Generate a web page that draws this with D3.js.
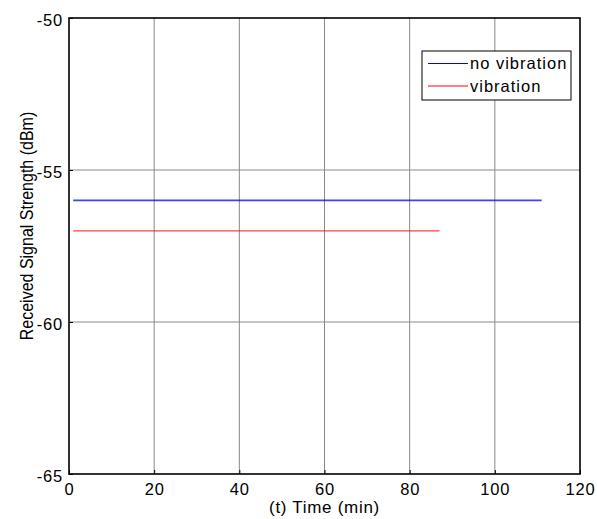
<!DOCTYPE html>
<html>
<head>
<meta charset="utf-8">
<script src="https://cdn.jsdelivr.net/npm/d3@7"></script>
<style>
  body { margin: 0; background: #fff; }
  text { font-family: "Liberation Sans", Arial, sans-serif; fill: #000; }
</style>
</head>
<body>
<script>
// series: [start, end] time (min) and constant RSS level (dBm)
var seriesNames = ["no vibration", "vibration"];
var seriesColors = ["#0000ff", "#ff0000"];
var noVibration = [[1, -56], [111, -56]];
var vibration = [[1, -57], [87, -57]];
var xTicks = [0, 20, 40, 60, 80, 100, 120];
var yTicks = [-65, -60, -55, -50];

var width = 597, height = 519;
var margin = { left: 69, right: 17, top: 18, bottom: 45 };

var svg = d3.select("body").append("svg")
    .attr("width", width)
    .attr("height", height);

var x = d3.scaleLinear().domain([0, 120]).range([margin.left, width - margin.right]);
var y = d3.scaleLinear().domain([-65, -50]).range([height - margin.bottom, margin.top]);

// grid
svg.append("g").selectAll("line").data(xTicks.slice(1, -1)).join("line")
    .attr("x1", d => x(d)).attr("x2", d => x(d))
    .attr("y1", y(-65)).attr("y2", y(-50))
    .attr("stroke", "#8a8a8a").attr("stroke-width", 1);
svg.append("g").selectAll("line").data(yTicks.slice(1, -1)).join("line")
    .attr("x1", x(0)).attr("x2", x(120))
    .attr("y1", d => y(d)).attr("y2", d => y(d))
    .attr("stroke", "#8a8a8a").attr("stroke-width", 1);

// data lines
var line = d3.line().x(d => x(d[0])).y(d => y(d[1]));
[noVibration, vibration].forEach(function (s, i) {
  svg.append("path").datum(s)
      .attr("d", line)
      .attr("fill", "none")
      .attr("stroke", seriesColors[i])
      .attr("stroke-width", i == 0 ? 1.6 : 1.2)
      .attr("opacity", 0.75);
});

// axes (ticks pointing inward, MATLAB style), plain hyphen minus
var fmt = d => String(d);
var xAxis = svg.append("g")
    .attr("transform", "translate(0," + y(-65) + ")")
    .call(d3.axisBottom(x).tickValues(xTicks).tickFormat(fmt).tickSizeInner(-4).tickSizeOuter(0).tickPadding(9));
var yAxis = svg.append("g")
    .attr("transform", "translate(" + x(0) + ",0)")
    .call(d3.axisLeft(y).tickValues(yTicks).tickFormat(fmt).tickSizeInner(-4).tickSizeOuter(0).tickPadding(6));
[xAxis, yAxis].forEach(function (g) {
  g.select(".domain").remove();
  g.selectAll("line").attr("stroke", "#000");
  g.selectAll("text").style("font-size", "16.5px").style("letter-spacing", "0.8px").attr("fill", "#000");
});
yAxis.selectAll("text").attr("dy", "0.45em");

// box
svg.append("rect")
    .attr("x", x(0)).attr("y", y(-50))
    .attr("width", x(120) - x(0)).attr("height", y(-65) - y(-50))
    .attr("fill", "none").attr("stroke", "#000").attr("stroke-width", 1.6);

// axis labels
svg.append("text")
    .attr("x", (x(0) + x(120)) / 2).attr("y", 512.5)
    .attr("text-anchor", "middle").style("font-size", "17px").style("letter-spacing", "0.7px")
    .text("(t) Time (min)");
svg.append("text")
    .attr("transform", "translate(33,226) rotate(-90) scale(1,1.15)")
    .attr("text-anchor", "middle").style("font-size", "16px")
    .text("Received Signal Strength (dBm)");

// legend
var legend = svg.append("g");
legend.append("rect")
    .attr("x", 422).attr("y", 51).attr("width", 149).attr("height", 49)
    .attr("fill", "#fff").attr("stroke", "#000").attr("stroke-width", 1);
seriesNames.forEach(function (name, i) {
  var ly = 63.5 + i * 22.5;
  legend.append("line")
      .attr("x1", 428).attr("x2", 468).attr("y1", ly).attr("y2", ly)
      .attr("stroke", seriesColors[i]).attr("stroke-width", 1);
  legend.append("text")
      .attr("x", 470).attr("y", ly + 5.5)
      .style("font-size", "16.5px").style("letter-spacing", "1px")
      .text(name);
});
</script>
</body>
</html>
